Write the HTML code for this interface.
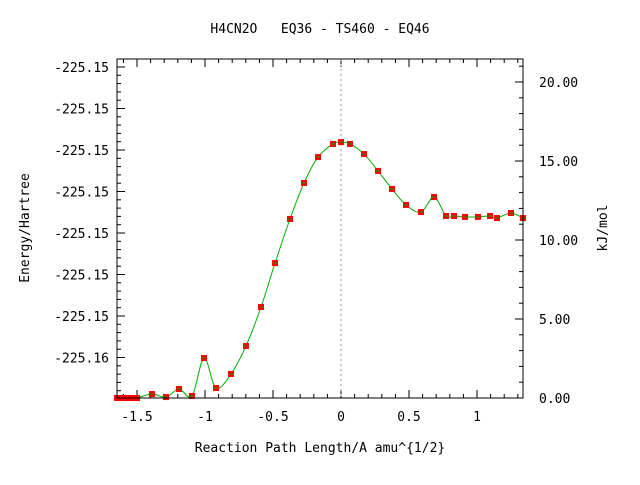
<!DOCTYPE html>
<html><head><meta charset="utf-8"><style>
body{margin:0;background:#fff}
svg text{font-family:"DejaVu Sans Mono","Liberation Mono",monospace;font-size:13px;fill:#000;white-space:pre}
</style></head><body>
<svg width="640" height="480">
<rect width="640" height="480" fill="#fff"/>
<text x="320" y="33" text-anchor="middle" xml:space="preserve">H4CN2O   EQ36 - TS460 - EQ46</text>
<g id="axes"></g>
<line id="zeroline" stroke="#999" stroke-dasharray="2,3"/>
<path id="curve" fill="none" stroke="#00b000" stroke-width="1"/>
<g id="pts"></g>
<rect x="117" y="59" width="406" height="339" fill="none" stroke="#000"/>
<text x="320" y="452" text-anchor="middle">Reaction Path Length/A amu^{1/2}</text>
<text transform="translate(29,228) rotate(-90)" text-anchor="middle">Energy/Hartree</text>
<text transform="translate(607,228) rotate(-90)" text-anchor="middle">kJ/mol</text>
</svg>
<script>
const xs=[-1.647,-1.632,-1.618,-1.603,-1.588,-1.566,-1.544,-1.522,-1.5,-1.39,-1.287,-1.191,-1.096,-1.007,-0.919,-0.809,-0.699,-0.588,-0.485,-0.375,-0.272,-0.169,-0.059,0,0.066,0.169,0.272,0.375,0.478,0.588,0.684,0.772,0.831,0.912,1.007,1.096,1.147,1.25,1.338];
const ys=[0,0,0,0,0,0,0,0,0,0.25,0.06,0.57,0.13,2.53,0.63,1.52,3.29,5.76,8.54,11.33,13.61,15.25,16.08,16.2,16.08,15.44,14.37,13.23,12.22,11.77,12.72,11.52,11.52,11.46,11.46,11.52,11.39,11.71,11.39];
const xTicks=[-1.5,-1,-0.5,0,0.5,1];
const xTickLabels=["-1.5","-1","-0.5","0","0.5","1"];
const rTicks=[0,5,10,15,20];
const rTickLabels=["0.00","5.00","10.00","15.00","20.00"];
const lTickLabels=["-225.15","-225.15","-225.15","-225.15","-225.15","-225.15","-225.15","-225.16"];
const L=117,R=523,T=59,B=398;
const X=v=>341+v*136, Y=v=>398-v*15.8;
const NS="http://www.w3.org/2000/svg";
const ax=document.getElementById('axes');
function mk(t,a,p){const e=document.createElementNS(NS,t);for(const k in a)e.setAttribute(k,a[k]);(p||ax).appendChild(e);return e;}
for(let v=-1.6;v<=1.35;v+=0.1){const x=X(v);if(x<L||x>R)continue;
 const big=Math.abs(v*2-Math.round(v*2))<1e-6;const l=big?8:4;
 const t=mk('line',{x1:x,x2:x,y1:B,y2:B-l,stroke:'#000'});
 
 const t2=mk('line',{x1:x,x2:x,y1:T,y2:T+l,stroke:'#000'});
 }
xTicks.forEach((v,i)=>{const t=mk('text',{x:X(v),y:B+23,'text-anchor':'middle'});t.textContent=xTickLabels[i];
 });
for(let i=0;i<lTickLabels.length;i++){const y=67+i*41.5;
 const t=mk('text',{x:109,y:y+5,'text-anchor':'end'});t.textContent=lTickLabels[i];
 }
for(let y=67-41.5;y<=B;y+=8.3){if(y<T)continue;const maj=Math.abs(((y-67)/41.5)-Math.round((y-67)/41.5))<0.01;
 const t=mk('line',{x1:L,x2:L+(maj?8:4),y1:y,y2:y,stroke:'#000'});
 }
rTicks.forEach((v,i)=>{const y=Y(v);
 const t=mk('line',{x1:R,x2:R-8,y1:y,y2:y,stroke:'#000'});
 const s=mk('text',{x:R+16,y:y+5});s.textContent=rTickLabels[i];
 });
for(let v=1;v<=21;v++){if(v%5==0)continue;const y=Y(v);if(y<T)continue;
 const t=mk('line',{x1:R,x2:R-4,y1:y,y2:y,stroke:'#000'});}
const zl=document.getElementById('zeroline');
zl.setAttribute('x1',X(0));zl.setAttribute('x2',X(0));zl.setAttribute('y1',T);zl.setAttribute('y2',B);
const P=xs.map((x,i)=>[X(x),Y(ys[i])]);
let d='M'+P[0][0]+','+P[0][1];
for(let i=0;i<P.length-1;i++){const p0=P[Math.max(i-1,0)],p1=P[i],p2=P[i+1],p3=P[Math.min(i+2,P.length-1)];
 d+=` C${p1[0]+(p2[0]-p0[0])/6},${p1[1]+(p2[1]-p0[1])/6} ${p2[0]-(p3[0]-p1[0])/6},${p2[1]-(p3[1]-p1[1])/6} ${p2[0]},${p2[1]}`;}
document.getElementById('curve').setAttribute('d',d);
const pg=document.getElementById('pts');
P.forEach(p=>{const r=mk('rect',{x:p[0]-3,y:p[1]-3,width:6,height:6,fill:'#f00'},pg);
 
 mk('line',{x1:p[0]-2,x2:p[0]+2,y1:p[1],y2:p[1],stroke:'#00a000','stroke-width':1},pg);});
</script>
</body></html>
